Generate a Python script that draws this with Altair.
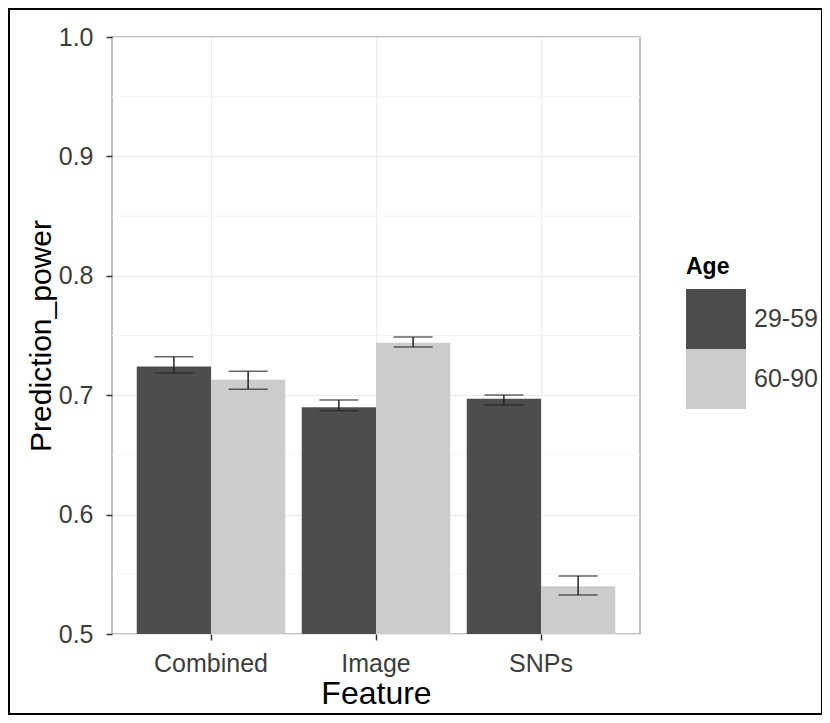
import altair as alt
import pandas as pd

features = ["Combined", "Combined", "Image", "Image", "SNPs", "SNPs"]
ages = ["29-59", "60-90", "29-59", "60-90", "29-59", "60-90"]
means = [0.724, 0.713, 0.690, 0.744, 0.697, 0.540]
lower = [0.7186, 0.705, 0.687, 0.7404, 0.6918, 0.5327]
upper = [0.7322, 0.720, 0.696, 0.7487, 0.7002, 0.5486]

y_ticks = [0.5, 0.6, 0.7, 0.8, 0.9, 1.0]
minor_ticks = [0.55, 0.65, 0.75, 0.85, 0.95]

df = pd.DataFrame({"Feature": features, "Age": ages, "Prediction_power": means,
                   "lo": lower, "hi": upper})
minor_df = pd.DataFrame({"v": minor_ticks})

FONT = "Liberation Sans"
LABEL_COLOR = "#3d3d3d"

x_enc = alt.X("Feature:N", sort=["Combined", "Image", "SNPs"],
              scale=alt.Scale(paddingInner=0.1, paddingOuter=0.15),
              axis=alt.Axis(title="Feature", labelAngle=0, labelFontSize=25,
                            labelColor=LABEL_COLOR, labelPadding=11, titleFontSize=32,
                            titleFontWeight="normal", titleColor="#000000", titlePadding=2,
                            tickSize=6, tickWidth=1.5, tickColor="#333333", domain=False,
                            grid=True, gridColor="#EBEBEB", gridWidth=1))
xo_enc = alt.XOffset("Age:N", scale=alt.Scale(paddingInner=0, paddingOuter=0))
y_scale = alt.Scale(domain=[0.5, 1.0], zero=False, nice=False)

minor = alt.Chart(minor_df).mark_rule(color="#F4F4F4", strokeWidth=1).encode(
    y=alt.Y("v:Q", scale=y_scale)
)

bars = alt.Chart(df).mark_bar(clip=True).encode(
    x=x_enc,
    xOffset=xo_enc,
    y=alt.Y("Prediction_power:Q", scale=y_scale,
            axis=alt.Axis(values=y_ticks, format=".1f", title="Prediction_power",
                          labelFontSize=25, labelColor=LABEL_COLOR, labelPadding=13,
                          titleFontSize=30, titleFontWeight="normal", titleColor="#000000",
                          titlePadding=2, tickSize=6, tickWidth=1.5, tickColor="#333333",
                          domain=False, grid=True, gridColor="#EBEBEB", gridWidth=1)),
    color=alt.Color("Age:N", scale=alt.Scale(domain=["29-59", "60-90"],
                                             range=["#4D4D4D", "#CCCCCC"]),
                    legend=alt.Legend(title="Age", orient="none", legendX=574, legendY=219,
                                      symbolType="square", symbolSize=3600,
                                      symbolStrokeWidth=0, symbolOpacity=1,
                                      labelFontSize=25, labelColor=LABEL_COLOR,
                                      labelOffset=8, titleFontSize=23,
                                      titleFontWeight="bold", titleColor="#000000",
                                      titlePadding=10, rowPadding=0))
)

rule = alt.Chart(df).mark_rule(color="#222222", strokeWidth=1.5).encode(
    x=alt.X("Feature:N", sort=["Combined", "Image", "SNPs"]),
    xOffset=xo_enc,
    y=alt.Y("lo:Q", scale=y_scale),
    y2="hi:Q",
)
tick_lo = alt.Chart(df).mark_tick(color="#222222", thickness=1.5, size=39).encode(
    x=alt.X("Feature:N", sort=["Combined", "Image", "SNPs"]),
    xOffset=xo_enc,
    y=alt.Y("lo:Q", scale=y_scale),
)
tick_hi = alt.Chart(df).mark_tick(color="#222222", thickness=1.5, size=39).encode(
    x=alt.X("Feature:N", sort=["Combined", "Image", "SNPs"]),
    xOffset=xo_enc,
    y=alt.Y("hi:Q", scale=y_scale),
)

frame = alt.Chart(pd.DataFrame({"f": [0]})).mark_rect(
    fillOpacity=0, stroke="#000000", strokeWidth=2
).encode(x=alt.value(-103), x2=alt.value(710), y=alt.value(-28), y2=alt.value(677))

chart = alt.layer(minor, bars, rule, tick_lo, tick_hi, frame).properties(
    width=528, height=597,
    padding={"left": 104, "top": 29, "right": 182, "bottom": 81},
    autosize=alt.AutoSizeParams(type="none"),
).configure(font=FONT).configure_view(
    stroke="#ABABAB", strokeWidth=1.5
).configure_axis(labelFont=FONT, titleFont=FONT).configure_legend(
    labelFont=FONT, titleFont=FONT
)

chart.save("out.html", embed_options={"renderer": "svg", "actions": False})
